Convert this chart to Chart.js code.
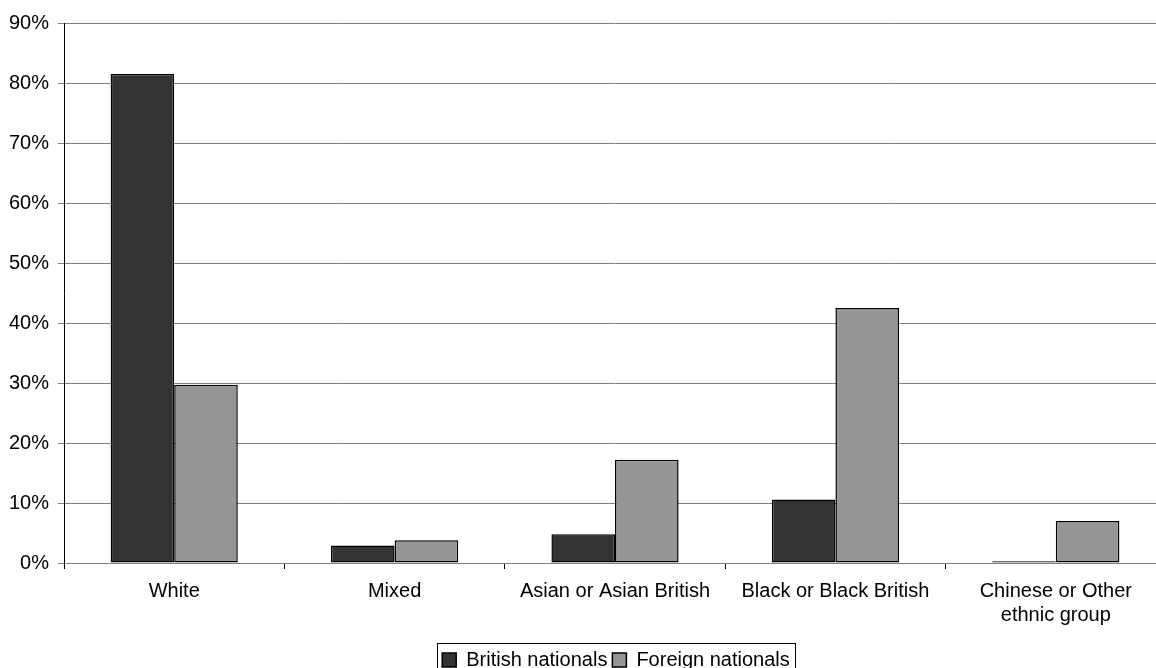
<!DOCTYPE html>
<html>
<head>
<meta charset="utf-8">
<script src="https://cdn.jsdelivr.net/npm/chart.js@4"></script>
<style>
  html, body { margin: 0; padding: 0; background: #fff; overflow: hidden; width: 1156px; height: 668px; }
  #wrap { position: absolute; left: 0; top: 0; width: 1168px; height: 680px; }
</style>
</head>
<body>
<div id="wrap"><canvas id="c" width="1168" height="680"></canvas></div>
<script>
const categories = ['White', 'Mixed', 'Asian or Asian British', 'Black or Black British', ['Chinese or Other', 'ethnic group']];
const britishNationals = [81.5, 2.9, 4.8, 10.6, 0.3];
const foreignNationals = [29.7, 3.8, 17.2, 42.5, 7.0];
const seriesNames = ['British nationals', 'Foreign nationals'];
const yTicks = [0, 10, 20, 30, 40, 50, 60, 70, 80, 90];

const FONT = 'Liberation Sans, Arial, sans-serif';

const legendShift = {
  id: 'legendShift',
  afterLayout(chart) {
    const lg = chart.legend;
    if (!lg) return;
    lg.left += 33;
    lg.right += 33;
  }
};

const legendBorder = {
  id: 'legendBorder',
  afterDraw(chart) {
    const lg = chart.legend;
    if (!lg || !lg.legendHitBoxes || !lg.legendHitBoxes.length) return;
    const hb = lg.legendHitBoxes;
    const left = Math.min(...hb.map(h => h.left)) - 5;
    const right = Math.max(...hb.map(h => h.left + h.width)) + 5;
    const top = Math.min(...hb.map(h => h.top)) - 7;
    const bottom = Math.max(...hb.map(h => h.top + h.height)) + 10;
    const ctx = chart.ctx;
    ctx.save();
    ctx.strokeStyle = '#000';
    ctx.lineWidth = 1;
    ctx.strokeRect(Math.round(left) + 0.5, Math.round(top) + 0.5, Math.round(right - left), Math.round(bottom - top));
    ctx.restore();
  }
};

new Chart(document.getElementById('c'), {
  type: 'bar',
  data: {
    labels: categories,
    datasets: [
      { label: seriesNames[0], data: britishNationals, backgroundColor: '#333333', borderColor: '#000000', borderWidth: 1.5, borderSkipped: false },
      { label: seriesNames[1], data: foreignNationals, backgroundColor: '#969696', borderColor: '#000000', borderWidth: 1.5, borderSkipped: false }
    ]
  },
  options: {
    responsive: false,
    animation: false,
    datasets: { bar: { categoryPercentage: 0.577, barPercentage: 1.0 } },
    layout: { padding: { top: 23, right: 2, left: 0, bottom: 0 } },
    scales: {
      x: {
        offset: true,
        grid: { offset: true, drawOnChartArea: false, drawTicks: true, tickLength: 6, color: '#000000' },
        border: { color: '#808080', width: 1 },
        ticks: { color: '#000', font: { family: FONT, size: 20 }, padding: 10, maxRotation: 0, autoSkip: false },
        afterFit(scale) { scale.height = 82; }
      },
      y: {
        min: 0, max: 90,
        afterBuildTicks(scale) { scale.ticks = yTicks.map(v => ({ value: v })); },
        grid: { color: '#808080', tickLength: 6, drawTicks: true },
        border: { color: '#000000', width: 1 },
        ticks: { color: '#000', font: { family: FONT, size: 20 }, padding: 9, callback: v => v + '%' },
        afterFit(scale) { scale.width = 64; }
      }
    },
    plugins: {
      legend: {
        position: 'bottom',
        labels: {
          color: '#000',
          font: { family: FONT, size: 20 },
          boxWidth: 14, boxHeight: 14, padding: 5
        }
      },
      tooltip: { enabled: false }
    }
  },
  plugins: [legendShift, legendBorder]
});
</script>
</body>
</html>
